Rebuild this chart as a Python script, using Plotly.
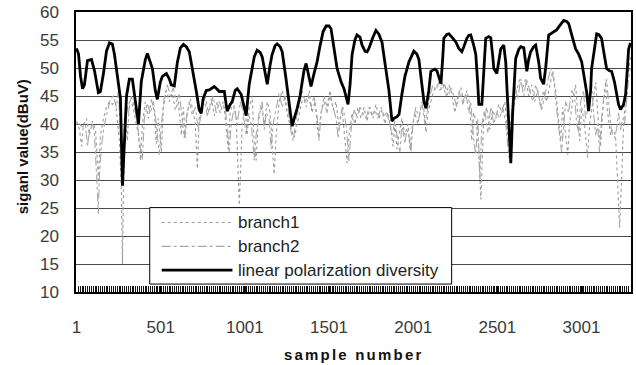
import plotly.graph_objects as go

# ---- data -------------------------------------------------------------
tick_vals = [1, 501, 1001, 1501, 2001, 2501, 3001]
tick_text = ["1", "501", "1001", "1501", "2001", "2501", "3001"]
y_ticks = [10, 15, 20, 25, 30, 35, 40, 45, 50, 55, 60]

series_names = ["branch1", "branch2", "linear polarization diversity"]

div_x = [1, 13, 25, 37, 48, 66, 90, 108, 131, 143, 161, 179, 197, 214, 226, 244, 262, 274, 286, 298,
         315, 333, 351, 369, 386, 410, 422, 440, 452, 469, 481, 499, 511, 535, 553, 564, 582, 600, 618, 636,
         653, 671, 695, 713, 730, 742, 753, 772, 790, 819, 837, 849, 879, 896, 914, 926, 944, 956, 979, 997,
         1009, 1027, 1045, 1057, 1074, 1092, 1104, 1122, 1134, 1151, 1163, 1181, 1193, 1211, 1223, 1246, 1264, 1282, 1299, 1312,
         1329, 1341, 1352, 1365, 1382, 1394, 1412, 1430, 1448, 1466, 1484, 1501, 1513, 1531, 1549, 1573, 1590, 1614, 1626, 1638,
         1655, 1667, 1685, 1697, 1715, 1727, 1738, 1762, 1780, 1798, 1816, 1828, 1839, 1857, 1875, 1887, 1905, 1917, 1934, 1952,
         1976, 1994, 2005, 2023, 2035, 2053, 2065, 2077, 2094, 2106, 2130, 2142, 2154, 2166, 2177, 2183, 2201, 2213, 2237, 2255,
         2272, 2290, 2302, 2320, 2331, 2343, 2361, 2373, 2385, 2391, 2409, 2420, 2432, 2450, 2462, 2474, 2480, 2498, 2509, 2521,
         2539, 2551, 2557, 2569, 2581, 2592, 2610, 2628, 2640, 2658, 2670, 2676, 2687, 2699, 2717, 2729, 2747, 2758, 2776, 2788,
         2806, 2824, 2836, 2853, 2865, 2883, 2895, 2913, 2925, 2942, 2966, 2984, 3002, 3019, 3031, 3043, 3055, 3061, 3079, 3091,
         3103, 3120, 3138, 3150, 3167, 3180, 3197, 3209, 3221, 3233, 3251, 3263, 3275, 3281, 3292]
div_y = [53.5, 52.5, 48.5, 46.3, 47, 51.3, 51.5, 49.5, 45.6, 45.8, 49, 53, 54.5, 54.3, 52.5, 48.8, 44.6, 29, 38, 45,
         48, 48, 44, 40, 47.6, 51.5, 52.6, 51, 49.9, 46, 44.4, 47.5, 48.5, 49, 48, 47, 46.8, 51, 53.6, 54.2,
         53.8, 52.9, 49, 45.8, 42.5, 41.9, 44.5, 46, 46.1, 46.7, 46.2, 45.8, 45.8, 42.3, 43.5, 44, 46, 46.3, 45.3, 43,
         41.5, 47.1, 50.5, 52, 53.2, 52.8, 52, 49, 47.1, 50.5, 52.4, 54, 54.3, 53.8, 52.9, 48, 44, 39.6, 41.5, 42.8,
         45, 47.1, 49.5, 50.8, 48.5, 46.7, 49, 51.1, 54, 56.5, 57.5, 57.5, 57, 53.5, 49.9, 47.5, 46.3, 43.5, 47, 52.4,
         55, 55.9, 55.5, 54.1, 53, 52.9, 53.5, 55.5, 56.7, 56, 54.6, 52, 49.9, 46, 40.5, 41, 41.3, 41.7, 45.3, 48.5,
         51.1, 52.5, 53, 52.5, 51.5, 47, 44, 42.8, 46, 49.4, 49.8, 49.5, 48.5, 47.2, 52, 55.3, 56, 56.1, 55.3, 54.6,
         53.5, 52.9, 53.8, 55.3, 55.8, 55.9, 54, 52.4, 47, 43.5, 43.5, 49, 55.3, 55.6, 55.4, 52, 49.9, 49, 51, 53.4,
         54.1, 51, 47.1, 40, 33, 42, 51.7, 53.3, 53.8, 53.6, 51, 49.4, 51.5, 52.9, 53.8, 54.1, 51, 48.2, 47.1, 50,
         55.9, 56.2, 56.5, 56.8, 57.3, 58, 58.5, 58.3, 57.9, 56, 53.4, 52.5, 51.1, 48, 45.8, 42.3, 46, 49.9, 54, 56.1,
         56, 55.3, 52, 49.9, 49.5, 49.4, 47.5, 45.8, 43.5, 42.6, 43.5, 45.3, 50, 53.4, 54.5]

b1_x = [1, 19, 31, 43, 60, 78, 96, 114, 131, 143, 161, 179, 197, 214, 232, 244, 256, 268, 274, 280,
        292, 303, 315, 333, 351, 369, 381, 392, 410, 428, 446, 464, 475, 487, 505, 517, 535, 552, 570, 588,
        606, 624, 636, 647, 659, 677, 695, 707, 719, 730, 748, 766, 784, 802, 819, 837, 855, 873, 885, 902,
        914, 932, 950, 962, 968, 974, 985, 1003, 1015, 1027, 1045, 1057, 1068, 1080, 1098, 1116, 1134, 1151, 1163, 1175,
        1187, 1205, 1223, 1240, 1258, 1276, 1294, 1312, 1329, 1347, 1365, 1383, 1400, 1418, 1436, 1454, 1472, 1489, 1507, 1525,
        1543, 1561, 1578, 1596, 1608, 1620, 1638, 1655, 1673, 1691, 1709, 1727, 1744, 1762, 1780, 1798, 1816, 1833, 1851, 1869,
        1881, 1893, 1905, 1916, 1934, 1952, 1970, 1982, 1993, 2011, 2029, 2047, 2065, 2077, 2088, 2106, 2124, 2142, 2160, 2177,
        2195, 2213, 2231, 2248, 2266, 2284, 2302, 2320, 2337, 2349, 2361, 2379, 2391, 2403, 2409, 2420, 2438, 2456, 2474, 2492,
        2509, 2527, 2545, 2557, 2569, 2581, 2598, 2616, 2634, 2652, 2670, 2687, 2705, 2723, 2741, 2758, 2776, 2794, 2812, 2830,
        2847, 2865, 2877, 2889, 2901, 2919, 2930, 2948, 2966, 2978, 2990, 3002, 3019, 3031, 3037, 3049, 3067, 3085, 3102, 3114,
        3126, 3144, 3156, 3174, 3185, 3203, 3215, 3227, 3239, 3251, 3268, 3280, 3292]
b1_y = [40.5, 39, 36, 40, 41, 38, 40.5, 39, 30, 38, 41, 43, 44, 43.5, 44, 41, 37, 28, 15, 28,
        42, 37, 44, 43.5, 41, 38, 33.5, 40, 44, 41, 44.5, 42, 36.5, 41, 35, 43, 46, 44, 45.5, 42.5,
        44, 38, 43, 37.5, 42, 44.5, 42, 40, 32, 41, 43.5, 45, 42, 44.5, 41.5, 44, 42, 44, 41, 35.5,
        42, 44, 41, 30, 25.5, 30, 40, 43, 38, 43, 45, 36, 33.5, 40, 43.5, 40, 44, 42, 36, 31,
        38, 44, 46, 44, 41, 39, 37.5, 40, 42.5, 45, 43, 46, 42, 44, 38, 42, 45, 43, 46, 42.5,
        44, 39, 43, 37, 33, 38, 42, 40, 43, 41, 43, 40.5, 43, 41, 43.5, 41, 42.5, 40, 42, 39,
        36, 40, 35.5, 38, 41, 38, 40, 35.5, 39, 42, 40, 43, 42.5, 38.5, 42, 44, 46, 47, 46, 47.5,
        45, 47, 45.5, 42, 45, 46.5, 44, 46, 43.5, 37, 42, 40, 35, 26.5, 31, 41, 43, 39, 42.5, 41,
        43.5, 42, 44, 40, 34, 38, 43, 46, 48, 46.5, 48, 45, 47, 44, 46, 43, 46, 44, 47, 49.5,
        46, 41, 37, 43, 40, 34.5, 40, 44, 47, 42, 37, 43, 40, 36, 34, 40, 44, 47.5, 40, 36,
        42, 47.5, 42, 38, 39, 38, 30, 21.5, 30, 40, 47, 50, 52]

b2_x = [1, 19, 37, 54, 66, 78, 96, 108, 120, 131, 137, 149, 167, 185, 203, 220, 238, 250, 262, 274,
        286, 298, 309, 327, 345, 363, 375, 392, 404, 422, 440, 458, 475, 493, 505, 523, 541, 558, 576, 594,
        612, 630, 641, 653, 671, 689, 707, 724, 742, 760, 778, 796, 813, 831, 849, 867, 885, 896, 908, 920,
        938, 956, 974, 991, 1009, 1021, 1039, 1057, 1068, 1086, 1104, 1116, 1128, 1145, 1157, 1169, 1187, 1205, 1223, 1240,
        1258, 1276, 1288, 1306, 1323, 1341, 1359, 1377, 1395, 1412, 1430, 1442, 1454, 1472, 1489, 1507, 1525, 1543, 1555, 1567,
        1584, 1602, 1620, 1632, 1650, 1667, 1685, 1703, 1721, 1738, 1756, 1774, 1792, 1810, 1827, 1845, 1863, 1875, 1893, 1910,
        1922, 1934, 1952, 1964, 1976, 1988, 1999, 2017, 2035, 2053, 2071, 2082, 2100, 2118, 2136, 2154, 2171, 2189, 2207, 2225,
        2243, 2260, 2278, 2296, 2314, 2331, 2343, 2361, 2373, 2385, 2397, 2409, 2426, 2444, 2462, 2480, 2498, 2515, 2533, 2551,
        2563, 2575, 2586, 2604, 2622, 2640, 2658, 2675, 2693, 2711, 2729, 2747, 2764, 2782, 2800, 2818, 2836, 2847, 2859, 2871,
        2883, 2895, 2907, 2924, 2942, 2960, 2972, 2984, 2996, 3013, 3025, 3043, 3061, 3073, 3085, 3096, 3108, 3120, 3138, 3150,
        3162, 3174, 3185, 3197, 3209, 3221, 3233, 3245, 3257, 3268, 3280, 3292]
b2_y = [40, 40, 39.5, 40, 36, 39, 40, 38, 31, 24, 31, 36, 40, 42, 44.5, 45, 43, 46, 38, 30,
        40, 44, 42, 45, 43, 40, 37, 33.5, 41, 43.5, 42, 44, 40, 34.5, 40, 45, 47, 45, 46.5, 44,
        45.5, 40, 37.5, 41, 44, 41.5, 43, 39, 42, 44.5, 41.5, 43, 45, 42, 44, 42.5, 43, 39, 35, 40,
        43, 40, 44, 42, 38, 42, 40, 33.5, 38, 42, 44, 39, 42, 41, 35.5, 40, 43, 45.5, 43, 45,
        42.5, 38.5, 37, 41, 43, 46, 44, 45, 43, 45, 41.5, 37, 42, 44, 42, 45, 43, 41, 37.5, 41,
        43, 40, 33.4, 39, 42.5, 41, 43, 42, 41, 43, 41.5, 42.5, 41, 43, 41.5, 42, 40, 38, 40.5, 37,
        35, 40, 36.5, 39, 38, 35, 40, 43, 41, 44, 40, 42, 45, 47, 46, 47.5, 46, 47, 45, 46.5,
        45, 43, 46, 43.5, 45.5, 42, 44, 37, 34.5, 41, 30, 40, 42.5, 38.5, 43, 40, 42, 41, 43, 40,
        36, 39, 42, 47, 44.5, 48, 45, 48, 46, 44, 47, 45, 42.5, 45, 47, 50, 48, 44, 41, 38,
        35, 40, 44, 42, 46, 45, 40, 38.5, 44, 46, 41, 43, 47, 42, 38, 40, 35, 41, 46, 48,
        44, 40, 38, 37.5, 39, 42, 39, 41, 40, 44, 48, 50]

# ---- styles -----------------------------------------------------------
styles = {
    "branch1": dict(color="#9a9a9a", width=1.1, dash="dot"),
    "branch2": dict(color="#a8a8a8", width=1.1, dash="dashdot"),
    "linear polarization diversity": dict(color="#000000", width=2.8),
}

fig = go.Figure()
for name, xs, ys in zip(series_names, [b1_x, b2_x, div_x], [b1_y, b2_y, div_y]):
    fig.add_trace(go.Scatter(x=xs, y=ys, mode="lines", name=name,
                             line=styles[name], showlegend=False))

# plot area geometry (pixels)
W, H = 636, 365
ML, MR, MT, MB = 76, 3, 10, 73
pw, ph = W - ML - MR, H - MT - MB


def px(x):
    return (x - ML) / pw


def py(y):
    return (H - MB - y) / ph


tick_font = dict(family="Liberation Sans, Arial, sans-serif", size=17, color="#3a3a3a")

fig.update_layout(
    width=W, height=H,
    margin=dict(l=ML, r=MR, t=MT, b=MB),
    paper_bgcolor="white", plot_bgcolor="white",
    xaxis=dict(
        range=[-2, 3295],
        tickmode="array", tickvals=tick_vals, ticktext=tick_text,
        ticks="inside", ticklen=6, tickcolor="black", tickwidth=1,
        minor=dict(dtick=11, tick0=1, ticks="inside", ticklen=6,
                   tickcolor="#111", tickwidth=1, showgrid=False),
        showgrid=False, zeroline=False,
        showline=True, linecolor="black", linewidth=1.5, mirror=True,
        tickfont=tick_font, ticklabelstandoff=19,
    ),
    yaxis=dict(
        range=[10, 60], tickmode="array", tickvals=y_ticks,
        ticks="", showgrid=True, gridcolor="#4a4a4a", gridwidth=1,
        zeroline=False, showline=True, linecolor="black", linewidth=1.5, mirror=True,
        tickfont=tick_font, ticklabelstandoff=12,
    ),
)

# axis titles
fig.add_annotation(text="siganl value(dBuV)", xref="paper", yref="paper",
                   x=px(22), y=py(146), textangle=-90, showarrow=False,
                   xanchor="center", yanchor="middle",
                   font=dict(family="Liberation Sans, Arial, sans-serif", size=15, color="#111",
                             weight="bold"))
fig.add_annotation(text='<span style="letter-spacing:2.2px">sample number</span>',
                   xref="paper", yref="paper", x=px(354), y=py(355), showarrow=False,
                   xanchor="center", yanchor="middle",
                   font=dict(family="Liberation Sans, Arial, sans-serif", size=15, color="#111",
                             weight="bold"))

# legend box drawn over the plot
fig.add_shape(type="rect", xref="paper", yref="paper",
              x0=px(150), x1=px(453), y0=py(284), y1=py(207),
              line=dict(color="black", width=1), fillcolor="white", layer="above")
row_y = [222, 246, 270]
for name, ry in zip(series_names, row_y):
    fig.add_shape(type="line", xref="paper", yref="paper",
                  x0=px(162), x1=px(233), y0=py(ry), y1=py(ry),
                  line=styles[name], layer="above")
    fig.add_annotation(text=name, xref="paper", yref="paper", x=px(237), y=py(ry),
                       xanchor="left", yanchor="middle", showarrow=False,
                       font=dict(family="Liberation Sans, Arial, sans-serif", size=17, color="#222"))

fig.write_html("out.html")
